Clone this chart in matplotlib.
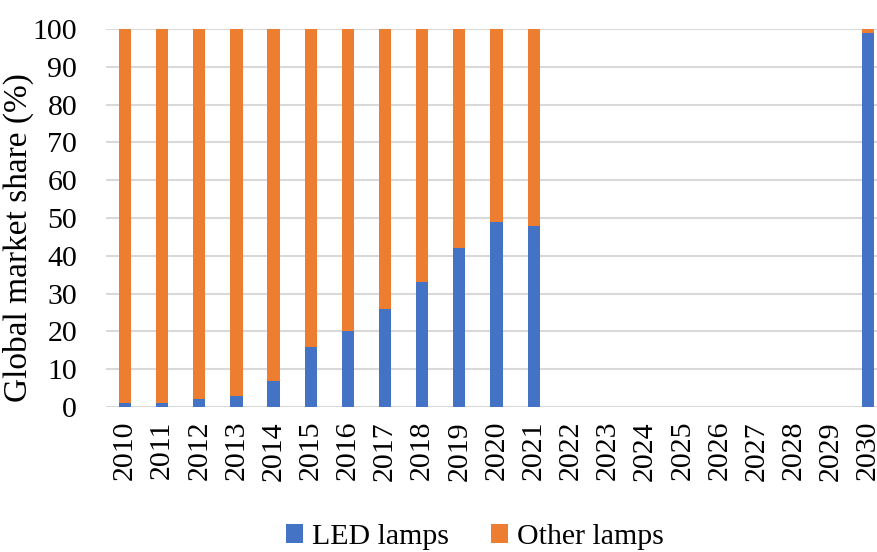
import matplotlib
matplotlib.use("Agg")
import matplotlib.pyplot as plt
import numpy as np

years = [str(y) for y in range(2010, 2031)]
led = [1, 1, 2, 3, 7, 16, 20, 26, 33, 42, 49, 48, 0, 0, 0, 0, 0, 0, 0, 0, 99]
other = [99, 99, 98, 97, 93, 84, 80, 74, 67, 58, 51, 52, 0, 0, 0, 0, 0, 0, 0, 0, 1]

plt.rcParams['font.family'] = ['Liberation Serif', 'DejaVu Serif']

fig = plt.figure(figsize=(8.78, 5.52), dpi=100)
W, H = 878, 552
left, right = 106.4, 886.6
top, bottom = 29, 407
ax = fig.add_axes([left / W, 1 - bottom / H, (right - left) / W, (bottom - top) / H])

x = np.arange(len(years))
c_led = '#4472C4'
c_oth = '#ED7D31'
ax.bar(x, led, width=0.33, color=c_led, label='LED lamps', zorder=3)
ax.bar(x, other, width=0.33, bottom=led, color=c_oth, label='Other lamps', zorder=3)

ax.set_xlim(-0.5, len(years) - 0.5)
ax.set_ylim(0, 100)
ax.set_yticks(range(0, 101, 10))
ax.set_xticks(x)
ax.set_xticklabels(years, rotation=90)
ax.tick_params(axis='both', length=0, labelsize=21.5, colors='black')
ax.tick_params(axis='y', pad=21)
ax.tick_params(axis='x', pad=10)
ax.yaxis.grid(True, color='#D9D9D9', linewidth=1.5, zorder=0)
for s in ax.spines.values():
    s.set_visible(False)
ax.set_ylabel('Global market share (%)', fontsize=24)
ax.yaxis.label.set_verticalalignment('top')
ax.yaxis.set_label_coords((3 - left) / (right - left), (407 - 238) / (bottom - top))

fig.legend(loc='center', bbox_to_anchor=(475 / W, 1 - 537 / H), ncol=2, frameon=False,
           fontsize=21.5, handlelength=0.57, handleheight=0.57, handletextpad=0.3, columnspacing=1.4)

fig.savefig('out.png', dpi=100)
